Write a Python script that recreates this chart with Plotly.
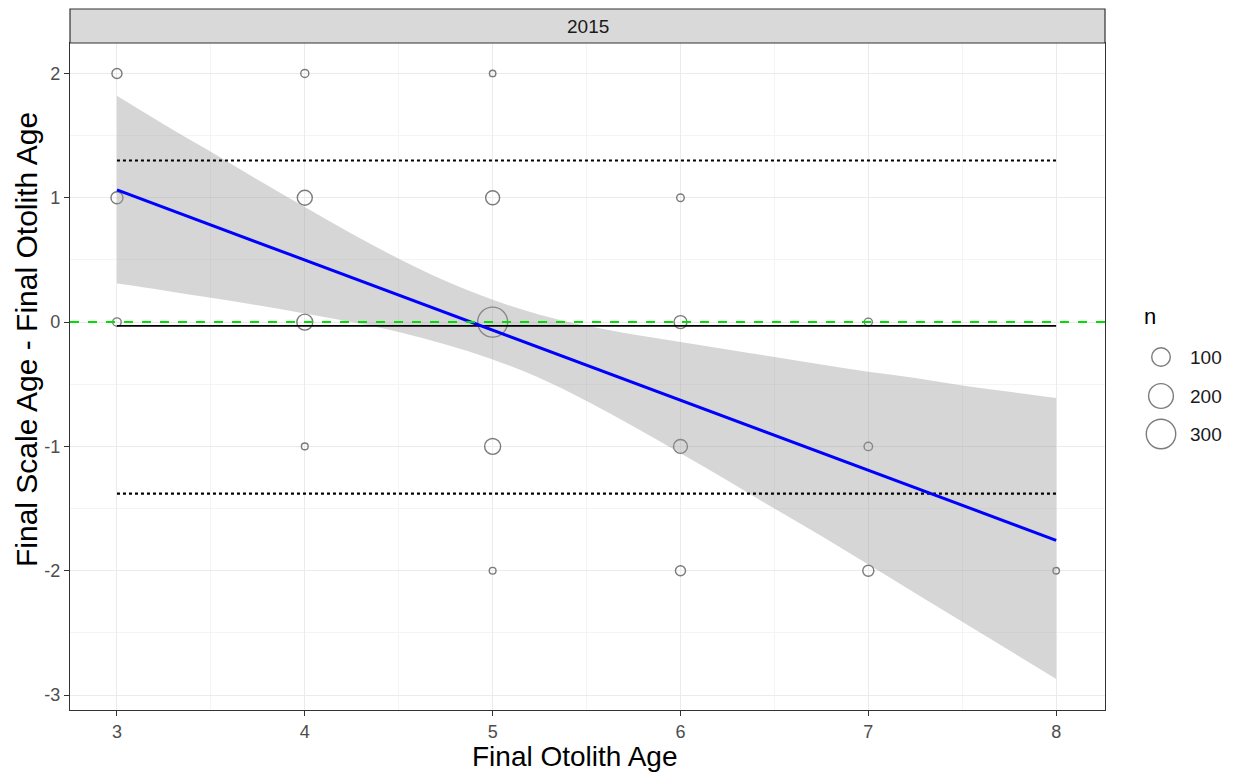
import numpy as np
import plotly.graph_objects as go

# ---------------- data ----------------
facet_label = "2015"
x_title = "Final Otolith Age"
y_title = "Final Scale Age - Final Otolith Age"
pt_x = [3, 3, 3, 4, 4, 4, 4, 5, 5, 5, 5, 5, 6, 6, 6, 6, 7, 7, 7, 8]
pt_y = [2, 1, 0, 2, 1, 0, -1, 2, 1, 0, -1, -2, 1, 0, -1, -2, 0, -1, -2, -2]
pt_n = [21, 36, 12, 10, 65, 77, 5, 4, 54, 350, 77, 5, 8, 44, 54, 21, 10, 12, 28, 4]

band_x = [3, 3.25, 3.5, 3.75, 4, 4.25, 4.5, 4.75, 5, 5.25, 5.5,
          5.75, 6, 6.25, 6.5, 6.75, 7, 7.25, 7.5, 7.75, 8]
band_upper = [1.82, 1.59, 1.37, 1.145, 0.925, 0.71, 0.51, 0.33, 0.18, 0.06, -0.03,
              -0.10, -0.16, -0.22, -0.28, -0.34, -0.40, -0.45, -0.51, -0.56, -0.61]
band_lower = [0.31, 0.255, 0.195, 0.135, 0.07, 0.0, -0.08, -0.18, -0.30, -0.45, -0.635,
              -0.84, -1.055, -1.275, -1.50, -1.72, -1.95, -2.18, -2.41, -2.64, -2.87]
fit_x = [3, 8]
fit_y = [1.063, -1.755]

mean_x = [3, 8]
mean_diff = -0.03
upper_limit = 1.30
lower_limit = -1.38

legend_n = [100, 200, 300]
x_ticks = [3, 4, 5, 6, 7, 8]
y_ticks = [-3, -2, -1, 0, 1, 2]
y_ticklabels = ["-3", "-2", "-1", "0", "1", "2"]

# ---------------- helpers ----------------
n_max = 350.0
def size_px(n):
    n = np.asarray(n, dtype=float)
    return 5 + 25 * (np.sqrt(n) - 1) / (np.sqrt(n_max) - 1)

# the page body has an 8px margin; figure is sized so the panel lands where the reference has it
OFF = 8
W, H = 1238 - OFF, 774 - OFF
ml, mt, mb = 70 - OFF, 43 - OFF, 64
panel_right = 1105 - OFF
plot_w = W - ml
plot_h = H - mt - mb
x_dom_end = (panel_right - ml) / plot_w

FONT = "Liberation Sans, Arial, sans-serif"

fig = go.Figure()

# points
fig.add_trace(go.Scatter(
    x=pt_x, y=pt_y, mode="markers",
    marker=dict(size=size_px(pt_n), symbol="circle-open",
                color="#444444", line=dict(width=1.4, color="#444444")),
    showlegend=False, hoverinfo="skip"))

# confidence band
fig.add_trace(go.Scatter(x=band_x, y=band_lower, mode="lines",
                         line=dict(width=0, color="rgba(0,0,0,0)", shape="spline"),
                         showlegend=False, hoverinfo="skip"))
fig.add_trace(go.Scatter(x=band_x, y=band_upper, mode="lines", fill="tonexty",
                         fillcolor="rgba(153,153,153,0.40)",
                         line=dict(width=0, color="rgba(0,0,0,0)", shape="spline"),
                         showlegend=False, hoverinfo="skip"))

# limits (dotted)
for yv in (upper_limit, lower_limit):
    fig.add_trace(go.Scatter(x=mean_x, y=[yv, yv], mode="lines",
                             line=dict(color="black", width=2.2, dash="dot"),
                             showlegend=False, hoverinfo="skip"))
# mean line
fig.add_trace(go.Scatter(x=mean_x, y=[mean_diff, mean_diff], mode="lines",
                         line=dict(color="black", width=1.6),
                         showlegend=False, hoverinfo="skip"))
# fit line
fig.add_trace(go.Scatter(x=fit_x, y=fit_y, mode="lines",
                         line=dict(color="#0000ff", width=3),
                         showlegend=False, hoverinfo="skip"))
# zero reference
fig.add_trace(go.Scatter(x=[2.75, 8.26], y=[0, 0], mode="lines",
                         line=dict(color="#00e000", width=2, dash="dash"),
                         showlegend=False, hoverinfo="skip"))

# legend drawn on an auxiliary axis whose units are page pixels
leg_y = [357, 396, 434]
leg_x = 1161
fig.add_trace(go.Scatter(
    x=[leg_x] * 3, y=leg_y, mode="markers",
    marker=dict(size=size_px(legend_n) * 1.05, symbol="circle-open",
                color="#444444", line=dict(width=1.4, color="#444444")),
    xaxis="x2", yaxis="y2", showlegend=False, hoverinfo="skip"))
for v, yy in zip(legend_n, leg_y):
    fig.add_annotation(text=str(v), xref="x2", yref="y2", x=1188, y=yy, showarrow=False,
                       xanchor="left", yanchor="middle",
                       font=dict(size=19, color="#1a1a1a", family=FONT))

axis_common = dict(showline=True, mirror=True, linecolor="#333333", linewidth=1.2,
                   ticks="outside", ticklen=5, tickcolor="#333333", tickwidth=1.2,
                   showgrid=True, gridcolor="#ebebeb", gridwidth=1.2, zeroline=False,
                   tickfont=dict(size=18, color="#4d4d4d", family=FONT))

fig.update_layout(
    width=W, height=H,
    margin=dict(l=ml, r=0, t=mt, b=mb, autoexpand=False),
    paper_bgcolor="white", plot_bgcolor="white",
    font=dict(family=FONT),
    xaxis=dict(range=[2.75, 8.26], domain=[0, x_dom_end], tickvals=x_ticks,
               minor=dict(dtick=0.5, tick0=2.5, showgrid=True, gridcolor="#f4f4f4", gridwidth=0.6),
               **axis_common),
    yaxis=dict(range=[-3.12, 2.245], tickvals=y_ticks, ticktext=y_ticklabels,
               minor=dict(dtick=0.5, tick0=0.5, showgrid=True, gridcolor="#f4f4f4", gridwidth=0.6),
               **axis_common),
    xaxis2=dict(domain=[x_dom_end, 1], range=[1105, 1238], visible=False, fixedrange=True),
    yaxis2=dict(domain=[0, 1], range=[710, 43], visible=False, fixedrange=True, anchor="x2"),
)

# axis titles (placed as in the reference, in page pixels on the auxiliary frame)
fig.add_annotation(text=x_title, xref="paper", yref="paper",
                   x=(574 - 70) / plot_w, y=(710 - 757) / plot_h, showarrow=False,
                   xanchor="center", yanchor="middle",
                   font=dict(size=28, color="black", family=FONT))
fig.add_annotation(text=y_title, xref="paper", yref="paper", textangle=-90,
                   x=(26 - 70) / plot_w, y=(710 - 340) / plot_h, showarrow=False,
                   xanchor="center", yanchor="middle",
                   font=dict(size=30, color="black", family=FONT))

# facet strip
strip_top = 1 + (mt - 1) / plot_h
fig.add_shape(type="rect", xref="paper", yref="paper", x0=0, x1=x_dom_end, y0=1, y1=strip_top,
              fillcolor="#d9d9d9", line=dict(color="#333333", width=1.2), layer="above")
fig.add_annotation(text=facet_label, xref="paper", yref="paper", x=x_dom_end / 2,
                   y=(1 + strip_top) / 2, showarrow=False, yanchor="middle",
                   font=dict(size=19, color="#1a1a1a", family=FONT))
# legend title
fig.add_annotation(text="n", xref="x2", yref="y2", x=1142, y=316, showarrow=False,
                   xanchor="left", yanchor="middle", font=dict(size=22, color="black", family=FONT))

fig.write_html("out.html")
